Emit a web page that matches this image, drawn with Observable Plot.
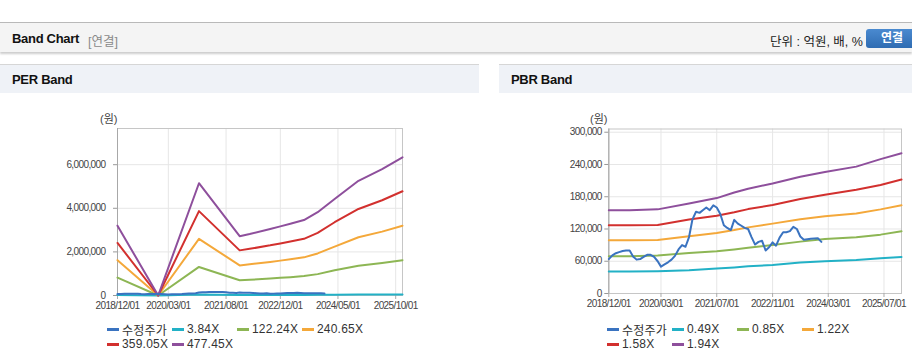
<!DOCTYPE html>
<html><head><meta charset="utf-8">
<script src="https://cdn.jsdelivr.net/npm/d3@7"></script>
<script src="https://cdn.jsdelivr.net/npm/@observablehq/plot@0.6"></script>
<style>
body{margin:0;width:912px;height:364px;overflow:hidden;background:#fff;font-family:"Liberation Sans","Noto Sans CJK KR",sans-serif;position:relative;color:#222}
.abs{position:absolute}
#topline{left:0;top:22px;width:912px;height:1px;background:#b9b9b9}
#hbar{left:0;top:23px;width:912px;height:29px;background:#f4f4f4;box-shadow:0 2px 2px rgba(0,0,0,.2)}
#htitle{left:12px;top:31px;font-size:13px;font-weight:bold;color:#111;letter-spacing:-0.3px}
#hsub{left:88px;top:31px;font-size:12.5px;color:#8a8a8a}
#unit{left:770px;top:31px;font-size:12.5px;color:#222}
#btn{left:866px;top:29px;width:50px;height:19px;background:linear-gradient(#4a8ad0,#2f6cb2);border-radius:3px;color:#fff;font-weight:bold;font-size:12px;line-height:19px;text-indent:15px}
.phead{top:64px;height:28px;background:#eff2f7;border-top:1px solid #d6d6d6}
.ptitle{top:72px;font-size:13px;font-weight:bold;color:#111;letter-spacing:-0.3px}
.unitlbl{top:110px;font-size:11px;color:#444}
.legend{display:grid;grid-template-columns:repeat(4,65px);row-gap:1px;font-size:12px;color:#333;letter-spacing:0.2px}
.li{display:flex;align-items:center;height:14px;white-space:nowrap}
.sw{display:inline-block;width:12px;height:3px;margin-right:3px}
svg text{letter-spacing:-0.6px}
</style></head><body>
<div class="abs" id="topline"></div>
<div class="abs" id="hbar"></div>
<div class="abs" id="htitle">Band Chart</div>
<div class="abs" id="hsub">[연결]</div>
<div class="abs" id="unit">단위 : 억원, 배, %</div>
<div class="abs" id="btn">연결</div>
<div class="abs phead" style="left:0;width:479px"></div>
<div class="abs phead" style="left:499px;width:413px"></div>
<div class="abs ptitle" style="left:12px">PER Band</div>
<div class="abs ptitle" style="left:511px">PBR Band</div>
<div class="abs unitlbl" style="left:100px">(원)</div>
<div class="abs unitlbl" style="left:590px">(원)</div>
<div class="abs" id="perChart" style="left:0;top:100px"></div>
<div class="abs" id="pbrChart" style="left:499px;top:100px"></div>
<div class="abs legend" id="perLegend" style="left:107px;top:322px"></div>
<div class="abs legend" id="pbrLegend" style="left:607px;top:322px"></div>
<script>
// ---- data ----
const priceName = "수정주가";
const priceDates = ["2018-12-01","2019-01-01","2019-02-01","2019-03-01","2019-04-01","2019-05-01","2019-06-01","2019-07-01","2019-08-01","2019-09-01","2019-10-01","2019-11-01","2019-12-01",
"2020-01-01","2020-02-01","2020-03-01","2020-04-01","2020-05-01","2020-06-01","2020-07-01","2020-08-01","2020-09-01","2020-10-01","2020-11-01","2020-12-01",
"2021-01-01","2021-02-01","2021-03-01","2021-04-01","2021-05-01","2021-06-01","2021-07-01","2021-08-01","2021-09-01","2021-10-01","2021-11-01","2021-12-01",
"2022-01-01","2022-02-01","2022-03-01","2022-04-01","2022-05-01","2022-06-01","2022-07-01","2022-08-01","2022-09-01","2022-10-01","2022-11-01","2022-12-01",
"2023-01-01","2023-02-01","2023-03-01","2023-04-01","2023-05-01","2023-06-01","2023-07-01","2023-08-01","2023-09-01","2023-10-01","2023-11-01","2023-12-01","2024-01-01"];
const priceValues = [64000,71000,75000,77000,79000,80000,80000,69000,63000,64000,68000,72000,72000,68000,60000,50000,54000,58000,63000,70000,82000,90000,87000,105000,138000,152000,150000,155000,160000,155000,164000,160000,148000,127000,122000,118000,137000,130000,126000,122000,120000,105000,91000,96000,98000,80000,86000,95000,89000,104000,114000,114000,116000,124000,120000,106000,100000,101000,102000,102500,103000,96000];

// PER band
const perNames = ["3.84X","122.24X","240.65X","359.05X","477.45X"];
const perDates = ["2018-12-01","2019-12-01","2020-12-01","2021-12-01","2022-03-01","2022-09-01","2022-12-01","2023-03-01","2023-07-01","2023-11-01","2024-04-01","2024-11-01","2025-06-01","2025-12-01"];
const per384 = [25700,0,41400,21900,22700,24500,25500,26500,27800,30700,35600,42300,46600,51000];
const per12224 = [820000,0,1310000,700000,720000,780000,810000,840000,890000,980000,1160000,1360000,1490000,1620000];
const per24065 = [1620000,0,2600000,1380000,1430000,1540000,1600000,1660000,1750000,1930000,2240000,2670000,2930000,3200000];
const per35905 = [2410000,0,3870000,2070000,2140000,2300000,2390000,2480000,2600000,2870000,3360000,3970000,4370000,4780000];
const per47745 = [3200000,0,5150000,2720000,2820000,3050000,3170000,3290000,3460000,3820000,4430000,5260000,5800000,6340000];
const perTicksX = ["2018-12-01","2020-03-01","2021-08-01","2022-12-01","2024-05-01","2025-10-01"];
const perTicksY = [0,2000000,4000000,6000000];

// PBR band
const pbrNames = ["0.49X","0.85X","1.22X","1.58X","1.94X"];
const pbrDates = ["2018-12-01","2019-06-01","2020-02-01","2020-11-01","2021-07-01","2021-12-01","2022-04-01","2022-11-01","2023-07-01","2024-02-01","2024-11-01","2025-06-01","2025-12-01"];
const pbr049 = [40800,40800,41400,43300,46400,48500,50500,53200,57500,60000,62500,65600,68000];
const pbr085 = [69300,69300,70500,75500,78600,82000,85000,90300,96500,101400,104500,109500,115700];
const pbr122 = [99000,99000,99600,106400,112600,118000,123000,130000,138000,143500,149000,156500,164000];
const pbr158 = [126800,126800,127500,137500,144800,151000,157000,164500,175700,183700,193000,202000,212000];
const pbr194 = [155000,155000,156500,167600,177500,188000,195000,204700,217000,226000,236000,250000,261000];
const pbrTicksX = ["2018-12-01","2020-03-01","2021-07-01","2022-11-01","2024-03-01","2025-07-01"];
const pbrTicksY = [0,60000,120000,180000,240000,300000];

const colors = ["#3a73c0","#22b1c6","#8db654","#f4a83a","#d2302e","#8e4f9c"];
const xDomain = ["2018-12-01","2025-12-01"];

// ---- build ----
const parse = d3.utcParse("%Y-%m-%d");
function rows(dates, values, series){ return values.map((v,i)=>({date:parse(dates[i]), value:v, series})); }

function makeChart(el, names, bandDates, bands, ticksX, ticksY, yMax, opts){
  let data = [];
  bands.forEach((b,i)=>{ data = data.concat(rows(bandDates, b, names[i])); });
  data = data.concat(rows(priceDates, priceValues, priceName));
  const tx = ticksX.map(parse);
  const p = Plot.plot({
    width: opts.width, height: 215,
    marginTop: opts.marginTop, marginBottom: opts.marginBottom,
    marginLeft: opts.marginLeft, marginRight: opts.marginRight,
    style: {fontFamily:'"Liberation Sans","Noto Sans CJK KR",sans-serif', fontSize:"10px", color:"#444", background:"transparent", overflow:"visible"},
    x: {type:"utc", domain: xDomain.map(parse), label:null},
    y: {domain:[0,yMax], label:null},
    color: {domain:[priceName, ...names], range: colors},
    marks: [
      Plot.gridX(tx, {stroke:"#e6e6e6", strokeOpacity:1}),
      Plot.gridY(ticksY, {stroke:"#e6e6e6", strokeOpacity:1}),
      Plot.frame({stroke:"#c6c6c6"}),
      Plot.axisX(tx, {tickFormat: d3.utcFormat("%Y/%m/%d"), tickSize:4, tickPadding:2, stroke:"#aaa", label:null, fill:"#444"}),
      Plot.axisY(ticksY, {tickFormat: d3.format(","), tickSize:4, tickPadding: opts.tickPadding, stroke:"#999", label:null, fill:"#444"}),
      Plot.ruleX([xDomain[0]].map(parse), {stroke:"#a8a8a8"}),
      Plot.line(data, {x:"date", y:"value", z:"series", stroke:"series", strokeWidth:2, strokeLinejoin:"round"})
    ]
  });
  document.getElementById(el).appendChild(p);
}

makeChart("perChart", perNames, perDates, [per384, per12224, per24065, per35905, per47745], perTicksX, perTicksY, 7660000,
  {width:479, marginTop:28, marginBottom:20, marginLeft:117, marginRight:77, tickPadding:8});
makeChart("pbrChart", pbrNames, pbrDates, [pbr049, pbr085, pbr122, pbr158, pbr194], pbrTicksX, pbrTicksY, 306000,
  {width:413, marginTop:28.5, marginBottom:22, marginLeft:109.3, marginRight:11, tickPadding:3});

function legend(el, names){
  const all = [priceName, ...names];
  const box = document.getElementById(el);
  all.forEach((n,i)=>{
    const d = document.createElement("div"); d.className = "li";
    d.innerHTML = `<span class="sw" style="background:${colors[i]}"></span>${n}`;
    box.appendChild(d);
  });
}
legend("perLegend", perNames);
legend("pbrLegend", pbrNames);
</script>
</body></html>
